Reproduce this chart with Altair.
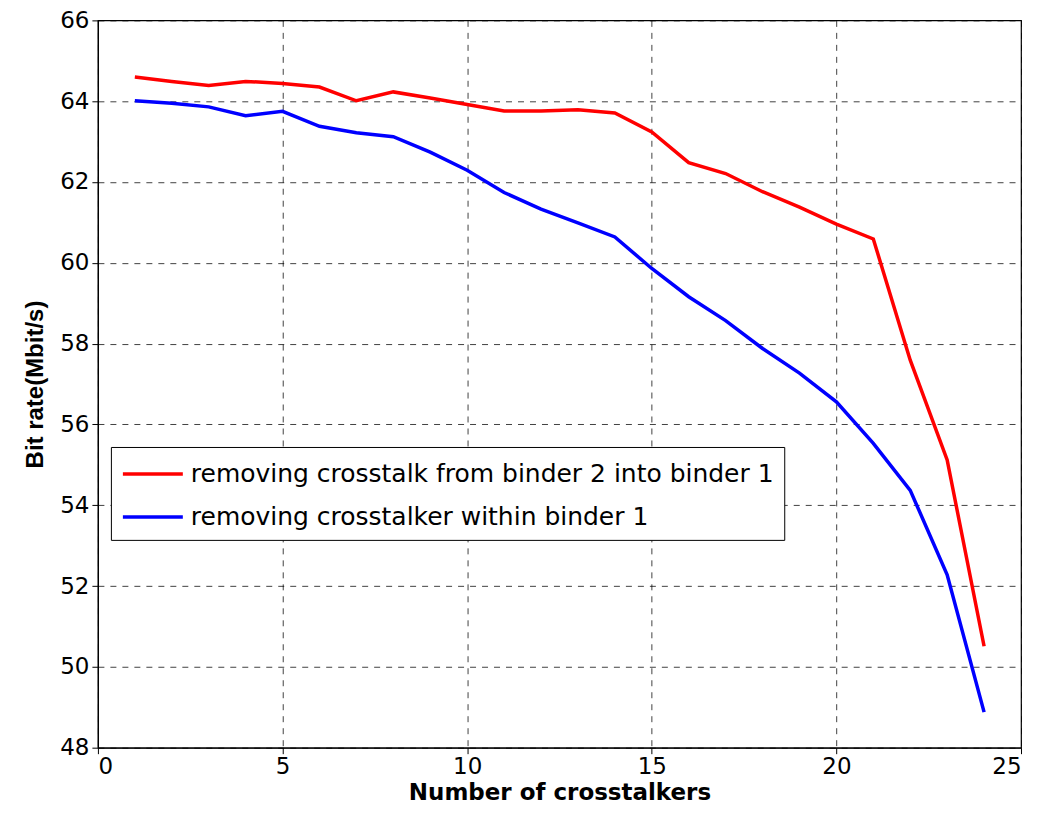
import altair as alt
import pandas as pd

crosstalkers = list(range(1, 25))
binder2_rate = [64.60, 64.49, 64.39, 64.49, 64.44, 64.35, 64.01, 64.23, 64.08, 63.92,
                63.76, 63.76, 63.79, 63.71, 63.24, 62.48, 62.21, 61.76, 61.38, 60.96,
                60.59, 57.59, 55.12, 50.51]
within_rate = [64.01, 63.95, 63.86, 63.64, 63.75, 63.38, 63.22, 63.12, 62.74, 62.29,
               61.74, 61.33, 60.99, 60.64, 59.86, 59.16, 58.57, 57.88, 57.27, 56.56,
               55.53, 54.37, 52.28, 48.88]
series_names = ["removing crosstalk from binder 2 into binder 1",
                "removing crosstalker within binder 1"]
series_colors = ["#ff0000", "#0000ff"]

rows = []
for i, x in enumerate(crosstalkers):
    rows.append({"x": x, "y": binder2_rate[i], "series": series_names[0]})
    rows.append({"x": x, "y": within_rate[i], "series": series_names[1]})
df = pd.DataFrame(rows)

chart = alt.Chart(df).mark_line(strokeWidth=3.5).encode(
    x=alt.X("x:Q", scale=alt.Scale(domain=[0, 25], nice=False),
            axis=alt.Axis(values=[0, 5, 10, 15, 20, 25], title="Number of crosstalkers",
                          titleFont="DejaVu Sans", titleFontSize=23)),
    y=alt.Y("y:Q", scale=alt.Scale(domain=[48, 66], nice=False, zero=False),
            axis=alt.Axis(values=list(range(48, 67, 2)), title="Bit rate(Mbit/s)",
                          titleFont="Liberation Sans", titleFontSize=24)),
    color=alt.Color("series:N", sort=series_names,
                    scale=alt.Scale(domain=series_names, range=series_colors),
                    legend=alt.Legend(title=None, orient="none", legendX=13, legendY=427,
                                      symbolType="M-1,0H3", symbolSize=900,
                                      symbolStrokeWidth=3.5, labelFontSize=25,
                                      labelFont="DejaVu Sans",
                                      labelColor="black", labelOffset=36,
                                      strokeColor="black", fillColor="white",
                                      padding=10, rowPadding=13, labelLimit=800)),
).properties(
    width=924, height=728,
    padding={"left": 90, "top": 12, "right": 10, "bottom": 76},
    autosize=alt.AutoSizeParams(type="none"),
).configure_view(
    stroke="black", strokeWidth=1.2
).configure_axis(
    domainColor="black", domainWidth=1.2,
    grid=True, gridColor="black", gridOpacity=0.75, gridDash=[6, 6], gridWidth=1,
    tickColor="black", tickSize=6,
    labelFont="DejaVu Sans", labelFontSize=23, labelColor="black",
    titleFontWeight="bold", titleColor="black",
).configure_axisX(
    labelPadding=2, titlePadding=3
).configure_axisY(
    labelPadding=3, titlePadding=12
)

chart.save("out.html", embed_options={"renderer": "svg", "actions": False})
